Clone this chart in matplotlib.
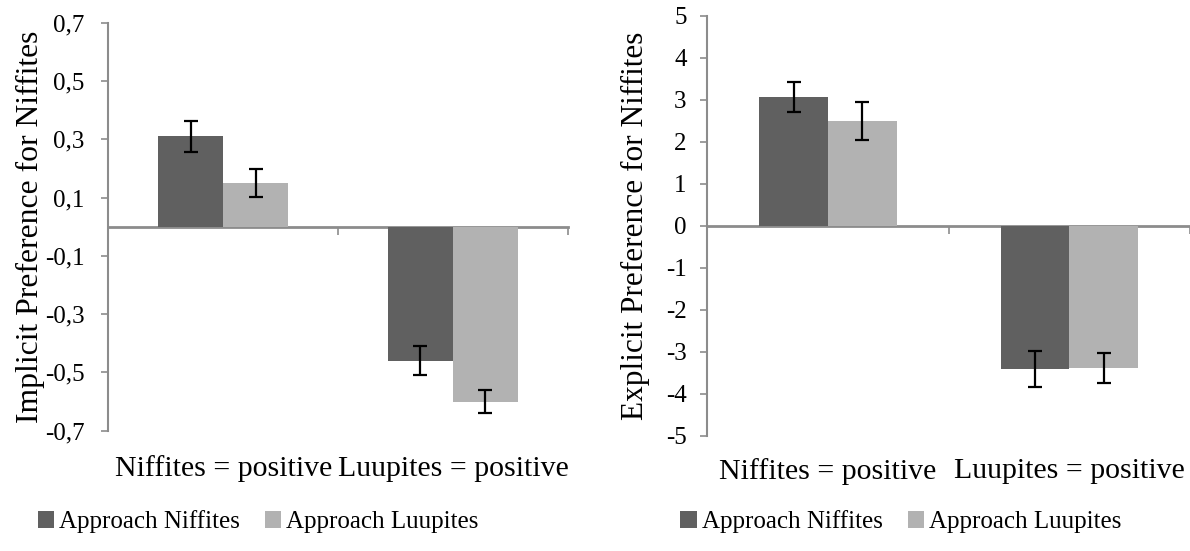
import matplotlib
matplotlib.use("Agg")
import matplotlib.pyplot as plt
from matplotlib.patches import Patch
import numpy as np

plt.rcParams['font.family'] = ['Liberation Serif', 'DejaVu Serif']

categories = ["Niffites = positive", "Luupites = positive"]
series_names = ["Approach Niffites", "Approach Luupites"]

implicit_niffites = [0.31, -0.46]
implicit_luupites = [0.15, -0.60]
implicit_err_niffites = [0.053, 0.050]
implicit_err_luupites = [0.047, 0.040]

explicit_niffites = [3.06, -3.41]
explicit_luupites = [2.49, -3.39]
explicit_err_niffites = [0.36, 0.43]
explicit_err_luupites = [0.45, 0.36]

implicit_ticks = [0.7, 0.5, 0.3, 0.1, -0.1, -0.3, -0.5, -0.7]
implicit_ticklabels = ["0,7", "0,5", "0,3", "0,1", "-0,1", "-0,3", "-0,5", "-0,7"]
explicit_ticks = [5, 4, 3, 2, 1, 0, -1, -2, -3, -4, -5]
explicit_ticklabels = ["5", "4", "3", "2", "1", "0", "-1", "-2", "-3", "-4", "-5"]

DARK = "#606060"
LIGHT = "#b2b2b2"
AXIS = "#8c8c8c"

fig = plt.figure(figsize=(11.9, 5.51), dpi=100)


def draw_panel(rect, a, b, ea, eb, ticks, ticklabels, ylim, ylabel, width,
               ylabel_size, label_y, ylabel_x, tick_pad):
    ax = fig.add_axes(rect)
    centers = np.arange(len(categories)) + 0.5
    ax.bar(centers - width / 2, a, width, color=DARK, zorder=2)
    ax.bar(centers + width / 2, b, width, color=LIGHT, zorder=2)
    ekw = dict(fmt="none", ecolor="black", elinewidth=1.6, capsize=5,
               capthick=1.6, zorder=3)
    ax.errorbar(centers - width / 2, a, yerr=ea, **ekw)
    ax.errorbar(centers + width / 2, b, yerr=eb, **ekw)

    ax.set_xlim(0, len(categories))
    ax.set_ylim(*ylim)
    ax.set_yticks(ticks)
    ax.set_yticklabels(ticklabels)
    ax.set_xticks(np.arange(len(categories) + 1))
    ax.set_xticklabels([])
    for s in ("top", "right"):
        ax.spines[s].set_visible(False)
    ax.spines["left"].set_color(AXIS)
    ax.spines["left"].set_linewidth(1.5)
    ax.spines["bottom"].set_position(("data", 0))
    ax.spines["bottom"].set_color(AXIS)
    ax.spines["bottom"].set_linewidth(2)
    ax.spines["bottom"].set_zorder(1)
    ax.tick_params(axis="y", direction="out", length=5, width=1.2,
                   color=AXIS, labelsize=18, pad=tick_pad)
    ax.tick_params(axis="x", direction="out", length=6, width=1.2,
                   color=AXIS)
    ax.set_ylabel(ylabel, fontsize=ylabel_size)
    ax.yaxis.set_label_coords(ylabel_x, 0.5)

    for c, lab in zip(centers, categories):
        ax.text(c, label_y, lab, transform=ax.get_xaxis_transform(),
                ha="center", va="center", fontsize=21.5)
    return ax


ax1 = draw_panel([0.0910, 0.2183, 0.3861, 0.7405],
                 implicit_niffites, implicit_luupites,
                 implicit_err_niffites, implicit_err_luupites,
                 implicit_ticks, implicit_ticklabels, (-0.7, 0.7),
                 "Implicit Preference for Niffites", 0.283, 22.8,
                 -0.093, -0.138, 12)

ax2 = draw_panel([0.5944, 0.2093, 0.4056, 0.7622],
                 explicit_niffites, explicit_luupites,
                 explicit_err_niffites, explicit_err_luupites,
                 explicit_ticks, explicit_ticklabels, (-5, 5),
                 "Explicit Preference for Niffites", 0.285, 22.5,
                 -0.085, -0.119, 10)

handles = [Patch(facecolor=DARK), Patch(facecolor=LIGHT)]
for cx in (0.217, 0.757):
    fig.legend(handles, series_names, loc="center",
               bbox_to_anchor=(cx, 0.053), ncol=2, frameon=False,
               fontsize=18, handlelength=0.65, handleheight=0.65,
               handletextpad=0.2, columnspacing=1.0, borderaxespad=0)

fig.savefig("out.png", dpi=100)
